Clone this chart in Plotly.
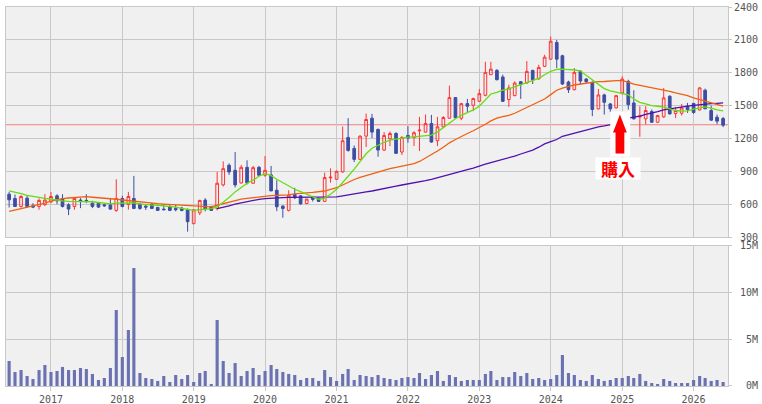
import plotly.graph_objects as go
import pandas as pd

# ---- data (monthly, Jun 2016 .. Jun 2026) ----
months = pd.date_range("2016-06-01", "2026-06-01", freq="MS").strftime("%Y-%m-%d").tolist()

open_ = [691, 652, 579, 655, 585, 579, 594, 621, 676, 652, 594, 579, 637, 634, 609, 609, 594, 594, 543, 652,
         597, 652, 600, 582, 600, 570, 555, 579, 561, 564, 549, 422, 521, 637, 576, 561, 776, 955, 909, 794,
         936, 791, 936, 864, 867, 727, 582, 543, 688, 676, 606, 664, 652, 625, 840, 827, 894, 1209, 1109, 1009,
         1221, 1385, 1282, 1094, 1197, 1245, 1076, 1227, 1209, 1270, 1258, 1336, 1179, 1306, 1385, 1573, 1385, 1518, 1503, 1539,
         1594, 1782, 1821, 1761, 1555, 1591, 1718, 1706, 1821, 1745, 1858, 1924, 2076, 1955, 1715, 1645, 1815, 1742, 1712, 1470,
         1597, 1515, 1479, 1615, 1721, 1524, 1395, 1379, 1445, 1348, 1397, 1585, 1427, 1430, 1494, 1520, 1460, 1640, 1455, 1394,
         1382]
high = [712, 688, 682, 676, 609, 652, 691, 712, 691, 691, 609, 664, 655, 691, 631, 615, 603, 652, 827, 676,
        712, 858, 609, 600, 609, 576, 600, 594, 594, 576, 561, 555, 640, 655, 585, 894, 991, 973, 1076, 958,
        1000, 949, 949, 1040, 949, 818, 591, 727, 749, 682, 652, 676, 660, 888, 927, 906, 1309, 1385, 1136, 1227,
        1427, 1424, 1291, 1258, 1264, 1258, 1221, 1312, 1267, 1397, 1418, 1415, 1397, 1403, 1682, 1576, 1524, 1561, 1573, 1652,
        1900, 1900, 1833, 1782, 1691, 1721, 1721, 1906, 1827, 1873, 1964, 2130, 2100, 1964, 1727, 1842, 1821, 1751, 1721, 1651,
        1609, 1524, 1597, 1767, 1736, 1640, 1494, 1494, 1464, 1415, 1661, 1594, 1488, 1515, 1524, 1524, 1670, 1655, 1500, 1418,
        1397]
low = [570, 575, 570, 570, 564, 549, 585, 609, 600, 570, 500, 549, 564, 609, 564, 564, 576, 549, 530, 570,
       549, 555, 549, 546, 555, 540, 549, 537, 534, 534, 349, 416, 500, 534, 540, 543, 761, 867, 752, 788,
       779, 785, 858, 849, 718, 536, 476, 534, 646, 594, 600, 624, 620, 622, 797, 824, 888, 1079, 985, 1006,
       1121, 1203, 1033, 1085, 1130, 1058, 1049, 1161, 1130, 1085, 1252, 1161, 1130, 1294, 1379, 1385, 1367, 1439, 1449, 1533,
       1585, 1779, 1730, 1533, 1488, 1585, 1561, 1700, 1697, 1736, 1852, 1918, 1842, 1688, 1615, 1639, 1691, 1706, 1403, 1464,
       1418, 1439, 1473, 1600, 1464, 1373, 1215, 1327, 1342, 1342, 1388, 1418, 1385, 1409, 1433, 1424, 1455, 1473, 1361, 1330,
       1303]
close = [640, 579, 670, 579, 573, 634, 637, 670, 630, 579, 555, 652, 625, 628, 579, 573, 585, 555, 652, 579,
         670, 561, 561, 573, 561, 543, 549, 543, 549, 543, 440, 549, 634, 555, 543, 791, 924, 894, 776, 936,
         794, 933, 864, 909, 721, 576, 561, 682, 658, 603, 646, 643, 625, 843, 846, 900, 1179, 1091, 1009, 1221,
         1373, 1258, 1094, 1227, 1245, 1064, 1209, 1203, 1252, 1276, 1336, 1167, 1306, 1391, 1573, 1388, 1518, 1494, 1564, 1609,
         1803, 1833, 1736, 1539, 1661, 1706, 1694, 1812, 1736, 1848, 1942, 2088, 1924, 1697, 1645, 1803, 1724, 1718, 1464, 1597,
         1530, 1470, 1591, 1742, 1509, 1379, 1405, 1455, 1348, 1409, 1570, 1424, 1455, 1479, 1464, 1437, 1661, 1470, 1367, 1358,
         1321]
volume_m = [2.68, 1.50, 1.71, 1.07, 0.75, 1.71, 2.25, 1.50, 1.61, 2.04, 1.71, 1.71, 1.93, 1.82, 1.29, 0.64, 0.86, 1.93, 8.14, 3.11,
            6.00, 12.64, 1.39, 0.86, 0.75, 0.54, 1.07, 0.43, 1.18, 0.75, 1.18, 0.43, 1.39, 1.61, 0.21, 7.07, 2.68, 1.39, 2.46, 1.07,
            1.61, 1.93, 1.18, 1.61, 2.25, 1.82, 1.50, 1.29, 1.18, 0.64, 0.86, 0.86, 0.54, 1.71, 0.96, 0.54, 1.29, 1.82, 0.64, 1.18,
            1.07, 0.96, 1.18, 0.86, 0.75, 0.64, 0.86, 0.96, 0.86, 1.39, 0.75, 1.18, 1.61, 0.54, 1.18, 0.96, 0.54, 0.64, 0.64, 0.64,
            1.29, 1.61, 0.64, 0.96, 0.96, 1.50, 1.07, 1.39, 0.75, 0.86, 0.64, 0.75, 1.18, 3.32, 1.39, 1.18, 0.64, 0.54, 1.18, 0.75,
            0.54, 0.64, 0.86, 0.86, 1.07, 0.86, 1.29, 0.54, 0.32, 0.21, 0.75, 0.54, 0.32, 0.32, 0.32, 0.64, 1.07, 0.86, 0.54, 0.64,
            0.43]
ma_short = [721, 712, 697, 680, 670, 658, 652, 646, 636, 630, 626, 625, 628, 628, 622, 615, 609, 603, 609, 612,
            615, 612, 603, 596, 591, 590, 586, 582, 572, 562, 550, 543, 549, 555, 560, 575, 615, 661, 712, 755,
            790, 820, 855, 878, 860, 827, 795, 762, 736, 715, 690, 668, 645, 655, 690, 735, 795, 855, 920, 990,
            1060, 1110, 1140, 1165, 1185, 1195, 1203, 1212, 1215, 1220, 1225, 1230, 1260, 1300, 1345, 1380, 1410, 1435, 1460, 1495,
            1555, 1606, 1621, 1640, 1652, 1670, 1690, 1712, 1732, 1748, 1782, 1812, 1830, 1833, 1828, 1827, 1815, 1775, 1735, 1690,
            1655, 1635, 1625, 1612, 1598, 1560, 1530, 1515, 1500, 1494, 1486, 1470, 1455, 1449, 1452, 1468, 1482, 1488, 1476, 1460,
            1452]
ma_mid = [534, 546, 561, 570, 579, 594, 609, 628, 642, 650, 656, 658, 665, 668, 663, 660, 656, 652, 645, 638,
          632, 626, 618, 610, 606, 604, 601, 598, 595, 591, 587, 582, 579, 576, 576, 590, 603, 620, 634, 645,
          652, 660, 667, 672, 677, 680, 682, 685, 693, 700, 703, 707, 713, 720, 735, 750, 775, 800, 825, 845,
          862, 880, 898, 912, 925, 935, 945, 955, 970, 990, 1020, 1050, 1085, 1120, 1160, 1190, 1220, 1245, 1270, 1297,
          1330, 1360, 1385, 1400, 1410, 1430, 1455, 1480, 1505, 1530, 1560, 1600, 1640, 1660, 1675, 1688, 1697, 1705, 1712, 1718,
          1720, 1725, 1728, 1727, 1715, 1695, 1685, 1676, 1660, 1655, 1645, 1630, 1615, 1605, 1590, 1570, 1555, 1540, 1525, 1510,
          1495]
ma_long = [None] * 35 + [
          560, 570, 585, 600, 612,
          624, 636, 644, 650, 655, 658, 660, 661, 661, 661, 661, 661, 661, 661, 663, 667, 676, 686, 696, 704,
          712, 720, 733, 745, 755, 765, 775, 785, 791, 800, 815, 827, 843, 858, 873, 886, 900, 915, 930, 950,
          965, 980, 994, 1010, 1024, 1039, 1058, 1076, 1094, 1120, 1150, 1170, 1190, 1220, 1235, 1252, 1267, 1280, 1292, 1306,
          1315, 1325, 1336, 1360, 1385, 1395, 1403, 1420, 1430, 1445, 1460, 1470, 1480, 1488, 1495, 1502, 1509, 1514, 1518, 1521,
          1524]

purchase_price = 1325
purchase_date = "2025-01-01"
arrow_tip_price = 1418
purchase_label = "購入"

price_ticks = [300, 600, 900, 1200, 1500, 1800, 2100, 2400]
vol_ticks = [0, 5, 10, 15]
x_range = ["2016-05-16", "2026-06-26"]

# ---- styles ----
RED = "#ff3333"
BLUE = "#3d4ea3"
VOLC = "#6a72b2"
GRID = "#c8c8c8"
TICKFONT = dict(family="DejaVu Sans Mono", size=10, color="#555555")
NB = "\u00a0"

def pad(s, n=4):
    return NB * (n - len(s)) + s

fig = go.Figure()

fig.add_trace(go.Candlestick(
    x=months, open=open_, high=high, low=low, close=close,
    xaxis="x", yaxis="y",
    increasing=dict(line=dict(color=RED, width=1), fillcolor="rgba(0,0,0,0)"),
    decreasing=dict(line=dict(color=BLUE, width=1), fillcolor=BLUE),
    whiskerwidth=0, hoverinfo="skip", showlegend=False,
))
for vals, col in [(ma_long, "#5010b0"), (ma_mid, "#f06010"), (ma_short, "#66dd11")]:
    fig.add_trace(go.Scatter(x=months, y=vals, mode="lines", xaxis="x", yaxis="y",
                             line=dict(color=col, width=1.3), hoverinfo="skip", showlegend=False))

fig.add_trace(go.Bar(x=months, y=volume_m, xaxis="x2", yaxis="y2",
                     marker=dict(color=VOLC, line=dict(width=0)),
                     width=16 * 86400000, hoverinfo="skip", showlegend=False))

axis_common = dict(showgrid=True, gridcolor=GRID, gridwidth=1, showline=True, mirror=True,
                   linecolor=GRID, linewidth=1, zeroline=False, automargin=False)

fig.update_layout(
    width=762, height=404,
    margin=dict(l=6, r=34, t=7, b=18),
    paper_bgcolor="white", plot_bgcolor="#f0f0f0",
    showlegend=False,
    xaxis=dict(domain=[0, 1], anchor="y", type="date", range=x_range,
               tick0="2017-01-01", dtick="M12", showticklabels=False, ticks="",
               rangeslider=dict(visible=False), **axis_common),
    xaxis2=dict(domain=[0, 1], anchor="y2", type="date", matches="x", range=x_range,
                tick0="2017-01-01", dtick="M12", tickformat="%Y", tickfont=TICKFONT,
                ticks="outside", ticklen=4, tickcolor=GRID, **axis_common),
    yaxis=dict(domain=[0.3931, 1], anchor="x", side="right", range=[300, 2400],
               tickvals=price_ticks, ticktext=[pad(str(v)) for v in price_ticks],
               tickfont=TICKFONT, ticks="outside", ticklen=3, tickcolor=GRID, **axis_common),
    yaxis2=dict(domain=[0, 0.3694], anchor="x2", side="right", range=[0, 15],
                tickvals=vol_ticks, ticktext=[pad(f"{v}M") for v in vol_ticks],
                tickfont=TICKFONT, ticks="outside", ticklen=3, tickcolor=GRID, **axis_common),
)

# purchase price line
fig.add_shape(type="line", xref="x domain", yref="y", x0=0, x1=1,
              y0=purchase_price, y1=purchase_price,
              line=dict(color="#f08080", width=1), layer="below")

# arrow (white backing + red arrow), sized in pixels around the purchase point
fig.add_shape(type="path", xref="x", yref="y", xsizemode="pixel", ysizemode="pixel",
              xanchor=purchase_date, yanchor=arrow_tip_price,
              path="M-12,3 L8,3 L8,-42 L-12,-42 Z",
              fillcolor="white", line=dict(width=0), layer="above")
fig.add_shape(type="path", xref="x", yref="y", xsizemode="pixel", ysizemode="pixel",
              xanchor=purchase_date, yanchor=arrow_tip_price,
              path="M-2.3,0 L4.6,-18 L2.1,-18 L2.1,-39 L-6.7,-39 L-6.7,-18 L-9.2,-18 Z",
              fillcolor="#ff0000", line=dict(width=0), layer="above")

fig.add_annotation(x=purchase_date, y=arrow_tip_price, xref="x", yref="y",
                   text=purchase_label, showarrow=False,
                   font=dict(family="Noto Sans CJK JP", size=17, color="#ff0000", weight="bold"),
                   bgcolor="white", width=44, height=21, borderpad=0,
                   xanchor="center", yanchor="middle", xshift=-4.3, yshift=-53.5)

fig.write_html("out.html")
